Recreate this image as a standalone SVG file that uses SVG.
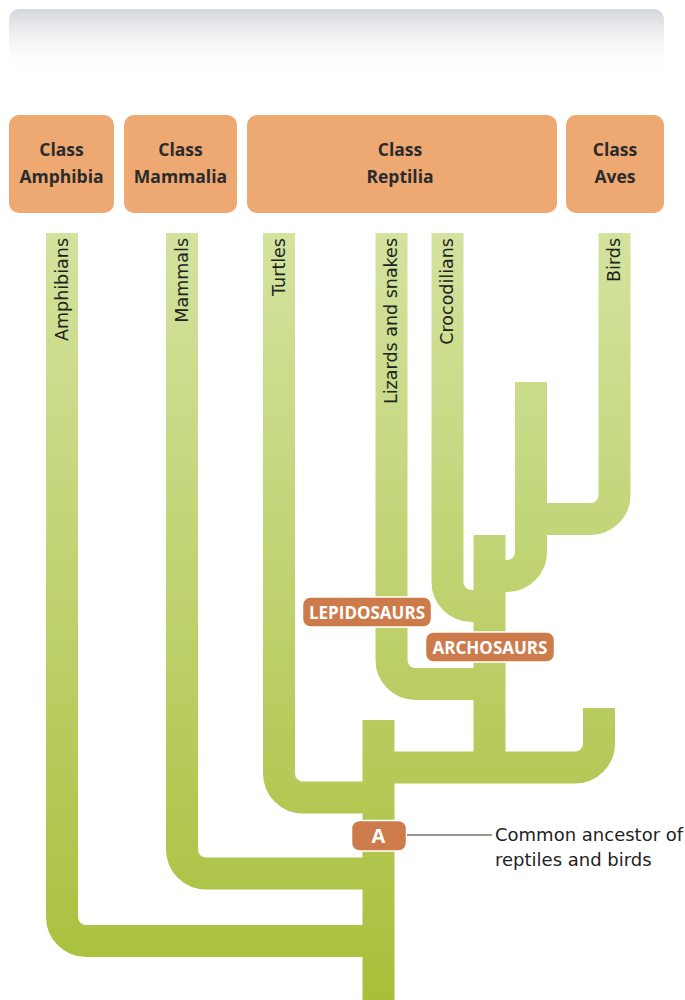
<svg xmlns="http://www.w3.org/2000/svg" width="685" height="1000" viewBox="0 0 685 1000">
  <defs>
    <!-- one vertical ramp shared by every branch so joins stay seamless -->
    <linearGradient id="stem" gradientUnits="userSpaceOnUse" x1="0" y1="230" x2="0" y2="1000">
      <stop offset="0" stop-color="#d3e39f"/>
      <stop offset="1" stop-color="#a8bf3a"/>
    </linearGradient>
    <linearGradient id="band" x1="0" y1="0" x2="0" y2="1">
      <stop offset="0" stop-color="#d3d6db"/>
      <stop offset="1" stop-color="#ffffff" stop-opacity="0"/>
    </linearGradient>
    <style>
      .branch{fill:none;stroke:url(#stem);stroke-width:32;stroke-linecap:butt;stroke-linejoin:miter}
      .cls rect{fill:#eea872}
      .cls text{font-family:"Open Sans","DejaVu Sans",sans-serif;font-weight:700;font-size:17.5px;fill:#2b2b2b;text-anchor:middle}
      .tip text{font-family:"DejaVu Sans",sans-serif;font-size:17.5px;fill:#222;text-anchor:end}
      .clade rect{fill:#cd7b4b;stroke:#ffffff;stroke-width:1.5}
      .clade text{font-family:"Open Sans","DejaVu Sans",sans-serif;font-weight:700;font-size:17px;fill:#ffffff;text-anchor:middle}
      .note{font-family:"DejaVu Sans",sans-serif;font-size:18px;fill:#222}
    </style>
  </defs>

  <rect width="685" height="1000" fill="#ffffff"/>

  <!-- header band -->
  <rect x="9" y="9" width="655" height="66" rx="10" fill="url(#band)"/>

  <!-- class boxes -->
  <g id="class-amphibia" class="cls">
    <rect x="9" y="115" width="105" height="98" rx="10"/>
    <text x="61.5" y="156">Class</text>
    <text x="61.5" y="183">Amphibia</text>
  </g>
  <g id="class-mammalia" class="cls">
    <rect x="124" y="115" width="113" height="98" rx="10"/>
    <text x="180.5" y="156">Class</text>
    <text x="180.5" y="183">Mammalia</text>
  </g>
  <g id="class-reptilia" class="cls">
    <rect x="247" y="115" width="310" height="98" rx="10"/>
    <text x="400" y="156">Class</text>
    <text x="400" y="183">Reptilia</text>
  </g>
  <g id="class-aves" class="cls">
    <rect x="566" y="115" width="98" height="98" rx="10"/>
    <text x="615" y="156">Class</text>
    <text x="615" y="183">Aves</text>
  </g>

  <!-- tree branches -->
  <g id="connectors">
    <path class="branch" d="M378.5,720 V1000"/>
    <path class="branch" d="M62,233 V917 A24,24 0 0 0 86,941 H378.5"/>
    <path class="branch" d="M182,233 V849.5 A24,24 0 0 0 206,873.5 H378.5"/>
    <path class="branch" d="M279,233 V773.5 A24,24 0 0 0 303,797.5 H378.5"/>
    <path class="branch" d="M599,708 V743.5 A24,24 0 0 1 575,767.5 H378.5"/>
    <path class="branch" d="M489.5,535 V767.5"/>
    <path class="branch" d="M391.5,233 V660 A24,24 0 0 0 415.5,684 H489.5"/>
    <path class="branch" d="M447.5,233 V582 A24,24 0 0 0 471.5,606 H489.5"/>
    <path class="branch" d="M531,382 V552 A24,24 0 0 1 507,576 H489.5"/>
    <path class="branch" d="M614.5,233 V495 A24,24 0 0 1 590.5,519 H531"/>
  </g>

  <!-- branch tip labels -->
  <g id="tip-amphibians" class="tip"><text transform="translate(67.5,238) rotate(-90)">Amphibians</text></g>
  <g id="tip-mammals" class="tip"><text transform="translate(187.5,238) rotate(-90)">Mammals</text></g>
  <g id="tip-turtles" class="tip"><text transform="translate(284.5,238) rotate(-90)">Turtles</text></g>
  <g id="tip-lizards" class="tip"><text transform="translate(397,238) rotate(-90)">Lizards and snakes</text></g>
  <g id="tip-crocodilians" class="tip"><text transform="translate(453,238) rotate(-90)">Crocodilians</text></g>
  <g id="tip-birds" class="tip"><text transform="translate(620,238) rotate(-90)">Birds</text></g>

  <!-- clade tags -->
  <g id="clade-lepidosaurs" class="clade">
    <rect x="302.5" y="597" width="129" height="30" rx="8"/>
    <text x="367" y="618.5">LEPIDOSAURS</text>
  </g>
  <g id="clade-archosaurs" class="clade">
    <rect x="425.5" y="632" width="129" height="30" rx="8"/>
    <text x="490" y="653.5">ARCHOSAURS</text>
  </g>
  <g id="ancestor-a" class="clade">
    <rect x="351.5" y="820.5" width="55" height="30.5" rx="8"/>
    <text x="378.5" y="843" style="font-size:20px">A</text>
  </g>

  <!-- callout -->
  <g id="callout">
    <line x1="407" y1="835" x2="492" y2="835" stroke="#333" stroke-width="1.2"/>
    <text class="note" x="495" y="841">Common ancestor of</text>
    <text class="note" x="495" y="866">reptiles and birds</text>
  </g>
</svg>
